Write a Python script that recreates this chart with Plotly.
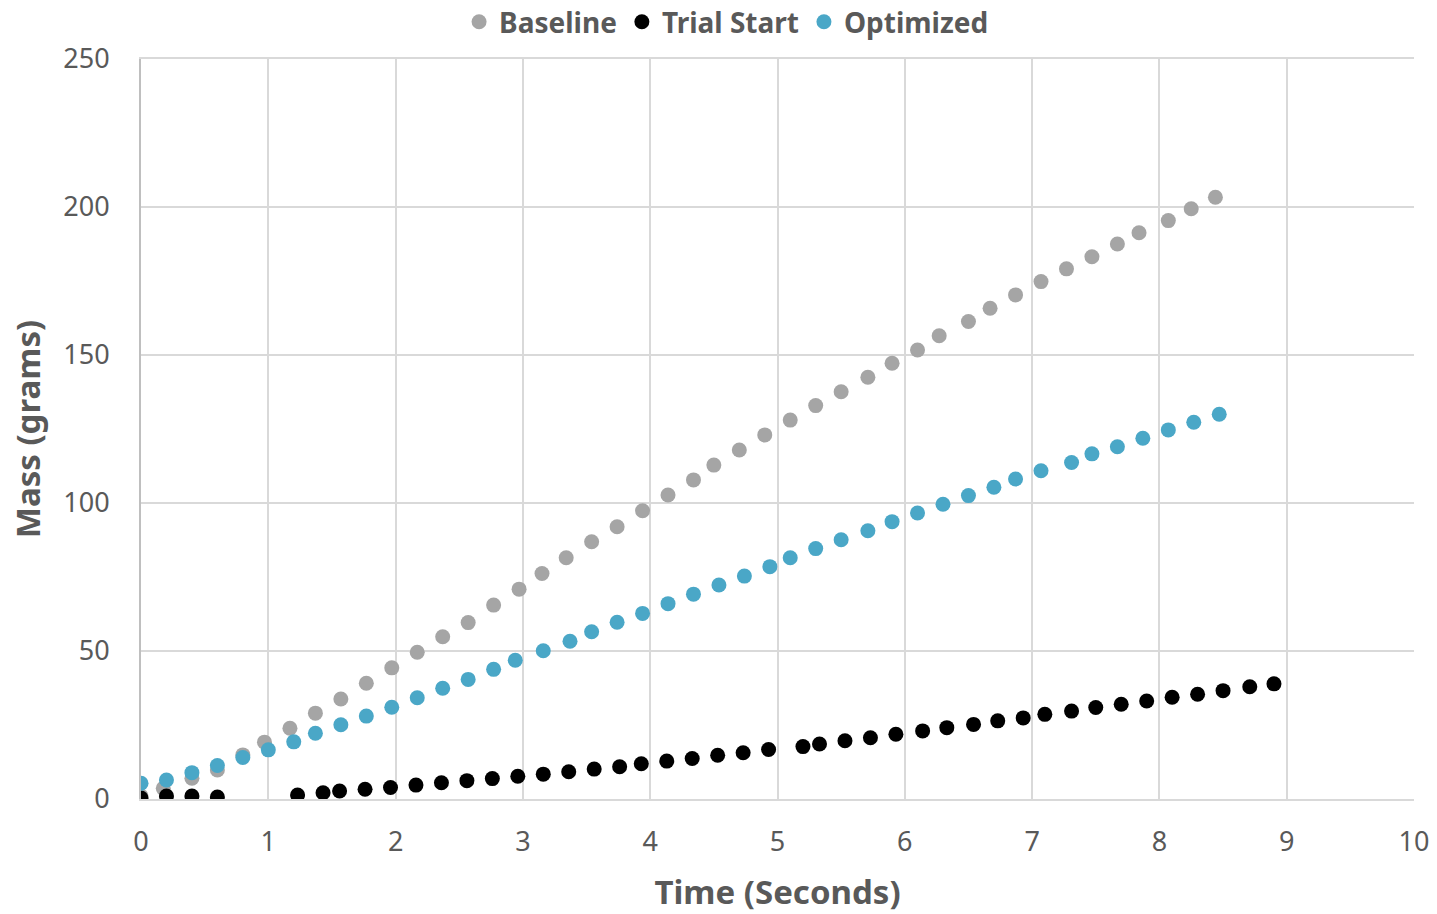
import plotly.graph_objects as go

# ---- data ----
baseline_x = [0.0, 0.175, 0.40, 0.60, 0.80, 0.97, 1.17, 1.37, 1.57, 1.77, 1.97, 2.17, 2.37, 2.57, 2.77, 2.97,
              3.15, 3.34, 3.54, 3.74, 3.94, 4.14, 4.34, 4.50, 4.70, 4.90, 5.10, 5.30, 5.50, 5.71, 5.90, 6.10,
              6.27, 6.50, 6.67, 6.87, 7.07, 7.27, 7.47, 7.67, 7.84, 8.07, 8.25, 8.44]
baseline_y = [1.0, 3.6, 7.0, 9.8, 14.9, 19.2, 23.9, 29.0, 33.8, 39.1, 44.3, 49.6, 54.8, 59.6, 65.5, 70.9,
              76.2, 81.5, 86.9, 92.0, 97.4, 102.7, 107.8, 112.8, 117.9, 123.0, 128.0, 132.9, 137.6, 142.5, 147.2, 151.7,
              156.5, 161.3, 165.8, 170.3, 174.8, 179.1, 183.2, 187.5, 191.3, 195.4, 199.4, 203.3]

trial_x = [0.0, 0.2, 0.4, 0.6, 1.23, 1.43, 1.56, 1.76, 1.96, 2.16, 2.36, 2.56, 2.76, 2.96, 3.16, 3.36, 3.56, 3.76,
           3.93, 4.13, 4.33, 4.53, 4.73, 4.93, 5.20, 5.33, 5.53, 5.73, 5.93, 6.14, 6.33, 6.54, 6.73, 6.93, 7.10,
           7.31, 7.50, 7.70, 7.90, 8.10, 8.30, 8.50, 8.71, 8.90]
trial_y = [0.3, 1.0, 1.0, 0.7, 1.35, 2.1, 2.7, 3.3, 3.9, 4.7, 5.5, 6.2, 6.9, 7.7, 8.4, 9.2, 10.1, 10.9,
           11.9, 12.8, 13.7, 14.8, 15.6, 16.7, 17.7, 18.6, 19.7, 20.7, 21.9, 23.0, 24.1, 25.2, 26.4, 27.4, 28.6,
           29.7, 30.9, 32.0, 33.1, 34.4, 35.4, 36.6, 37.9, 38.9]

optimized_x = [0.0, 0.2, 0.4, 0.6, 0.8, 1.0, 1.2, 1.37, 1.57, 1.77, 1.97, 2.17, 2.37, 2.57, 2.77, 2.94, 3.16,
               3.37, 3.54, 3.74, 3.94, 4.14, 4.34, 4.54, 4.74, 4.94, 5.10, 5.30, 5.50, 5.71, 5.90, 6.10, 6.30,
               6.50, 6.70, 6.87, 7.07, 7.31, 7.47, 7.67, 7.87, 8.07, 8.27, 8.47]
optimized_y = [5.3, 6.4, 8.9, 11.3, 14.0, 16.6, 19.3, 22.2, 25.1, 28.0, 31.0, 34.2, 37.4, 40.4, 43.8, 46.9, 50.1,
               53.3, 56.5, 59.7, 62.7, 66.0, 69.2, 72.3, 75.3, 78.5, 81.5, 84.6, 87.6, 90.6, 93.7, 96.6, 99.6,
               102.5, 105.3, 108.1, 110.9, 113.7, 116.6, 119.0, 121.9, 124.7, 127.3, 130.0]

series_names = ["Baseline", "Trial Start", "Optimized"]
x_ticks = [0, 1, 2, 3, 4, 5, 6, 7, 8, 9, 10]
y_ticks = [0, 50, 100, 150, 200, 250]

colors = ["#a5a5a5", "#000000", "#4aa7c7"]
FONT = "Source Sans Pro, Noto Sans, sans-serif"
TXT = "#595959"

fig = go.Figure()
for name, xs, ys, c in zip(series_names, [baseline_x, trial_x, optimized_x],
                           [baseline_y, trial_y, optimized_y], colors):
    fig.add_trace(go.Scatter(x=xs, y=ys, mode="markers", name=name,
                             marker=dict(color=c, size=15, line=dict(width=0))))

fig.update_layout(
    width=1437, height=914,
    margin=dict(l=141, r=23, t=59, b=115, autoexpand=False),
    paper_bgcolor="white", plot_bgcolor="white",
    font=dict(family=FONT, color=TXT),
    legend=dict(orientation="h", x=0.46, xanchor="center", y=1.05, yanchor="middle",
                font=dict(size=28, color=TXT, family=FONT, weight="bold"),
                itemwidth=30, tracegroupgap=0, itemsizing="trace",
                bgcolor="rgba(0,0,0,0)"),
    showlegend=True,
)

fig.update_xaxes(range=[0, 10], tickvals=x_ticks, ticktext=[str(v) for v in x_ticks],
                 showgrid=True, gridcolor="#d9d9d9", gridwidth=2,
                 zeroline=False, showline=True, linecolor="#d9d9d9", linewidth=2, mirror=True,
                 ticks="", ticklabelstandoff=18,
                 tickfont=dict(size=27, color=TXT, family=FONT),
                 title=dict(text="Time (Seconds)", standoff=23,
                            font=dict(size=33, color=TXT, family=FONT, weight="bold")))
fig.update_yaxes(range=[0, 250], tickvals=y_ticks, ticktext=[str(v) for v in y_ticks],
                 showgrid=True, gridcolor="#d9d9d9", gridwidth=2,
                 zeroline=False, showline=True, linecolor="#bfbfbf", linewidth=2, mirror=False,
                 ticks="", ticklabelstandoff=24,
                 tickfont=dict(size=27, color=TXT, family=FONT),
                 title=dict(text="Mass (grams)", standoff=13,
                            font=dict(size=33, color=TXT, family=FONT, weight="bold")))

fig.write_html("out.html")
